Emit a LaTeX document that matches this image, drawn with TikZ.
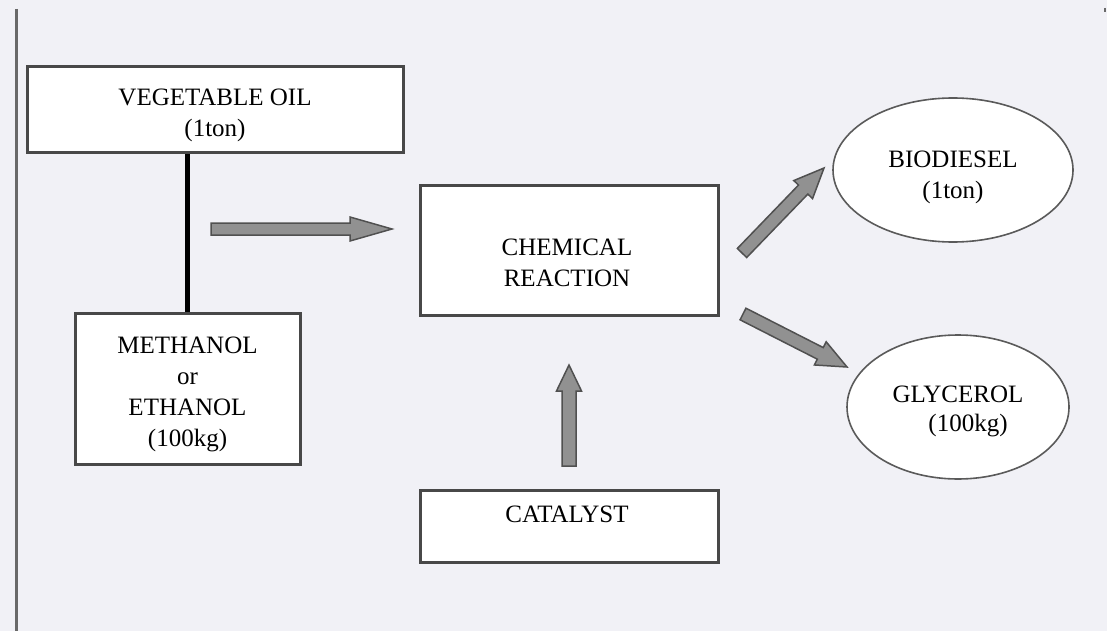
\documentclass[tikz,border=0pt]{standalone}
\usepackage{fontspec}
\setmainfont{Liberation Serif}
\usetikzlibrary{calc,shapes.geometric}
\definecolor{bg}{RGB}{241,241,246}
\definecolor{edge}{RGB}{72,72,72}
\definecolor{ovaledge}{RGB}{90,90,90}
\definecolor{arrfill}{RGB}{145,145,145}
\definecolor{arredge}{RGB}{80,80,80}
\definecolor{rule}{RGB}{105,105,105}
\tikzset{
  box/.style={draw=edge, line width=3pt, fill=white, inner sep=0pt},
  oval/.style={ellipse, draw=ovaledge, line width=1.6pt, fill=white, inner sep=0pt},
  txt/.style={font=\fontsize{25}{31}\selectfont, align=center, inner sep=0pt},
  fatarrow/.style={fill=arrfill, draw=arredge, line width=1.5pt, line join=miter},
  link/.style={draw=black, line width=4.5pt}
}
\newcommand\fatarr[5]{%
  \filldraw[fatarrow] let \p1=($(#2)-(#1)$), \n1={atan2(\y1,\x1)} in
    ($(#1)+(\n1+90:#3pt)$) --
    ($(#2)+(\n1+180:#5pt)+(\n1+90:#3pt)$) --
    ($(#2)+(\n1+180:#5pt)+(\n1+90:#4pt)$) --
    (#2) --
    ($(#2)+(\n1+180:#5pt)+(\n1-90:#4pt)$) --
    ($(#2)+(\n1+180:#5pt)+(\n1-90:#3pt)$) --
    ($(#1)+(\n1-90:#3pt)$) -- cycle;}
\begin{document}
\begin{tikzpicture}[x=1pt, y=-1pt]
  \useasboundingbox (0,0) rectangle (1107,631);
  \fill[bg] (0,0) rectangle (1107,631);
  % left rule and top-right mark
  \coordinate (ruletop) at (16,9);
  \coordinate (rulebot) at (16,631);
  \draw[rule, line width=3pt] (ruletop) -- (rulebot);
  \coordinate (marktop) at (1105,8);
  \coordinate (markbot) at (1105,12);
  \draw[rule, line width=2pt] (marktop) -- (markbot);

  % boxes
  \node[box, minimum width=376pt, minimum height=86pt] (veg) at (215,110) {};
  \node[txt] (vegt) at (215,115) {VEGETABLE OIL\\(1ton)};

  \node[box, minimum width=225pt, minimum height=151pt] (meth) at (187.5,388.5) {};
  \node[txt] (metht) at (187.5,394) {METHANOL\\or\\ETHANOL\\(100kg)};

  \node[box, minimum width=298pt, minimum height=130pt] (chem) at (569,250) {};
  \node[txt] (chemt) at (567,263) {CHEMICAL\\REACTION};

  \node[box, minimum width=298pt, minimum height=72pt] (cat) at (569,526) {};
  \node[txt] (catt) at (567,514.5) {CATALYST};

  % ellipses
  \node[oval, minimum width=240pt, minimum height=144pt] (bio) at (953,170) {};
  \node[txt] (biot) at (953,177) {BIODIESEL\\(1ton)};

  \node[oval, minimum width=222pt, minimum height=144pt] (gly) at (958,407) {};
  \node[txt] (glyt) at (958,394) {GLYCEROL};
  \node[txt] (glyq) at (968,426) {(100kg)};

  % link between oil and alcohol
  \draw[link] (veg.south -| meth.north) -- (meth.north);

  % fat arrows
  \coordinate (a1s) at (211,229);  \coordinate (a1e) at (392,229);
  \coordinate (a2s) at (569,466);  \coordinate (a2e) at (569,365);
  \coordinate (a3s) at (742,253);  \coordinate (a3e) at (824,168);
  \coordinate (a4s) at (743,314);  \coordinate (a4e) at (847,367);
  \fatarr{a1s}{a1e}{6}{12}{42}
  \fatarr{a2s}{a2e}{7}{12.5}{26}
  \fatarr{a3s}{a3e}{6.5}{13}{30}
  \fatarr{a4s}{a4e}{6.5}{13}{30}
\end{tikzpicture}
\end{document}
